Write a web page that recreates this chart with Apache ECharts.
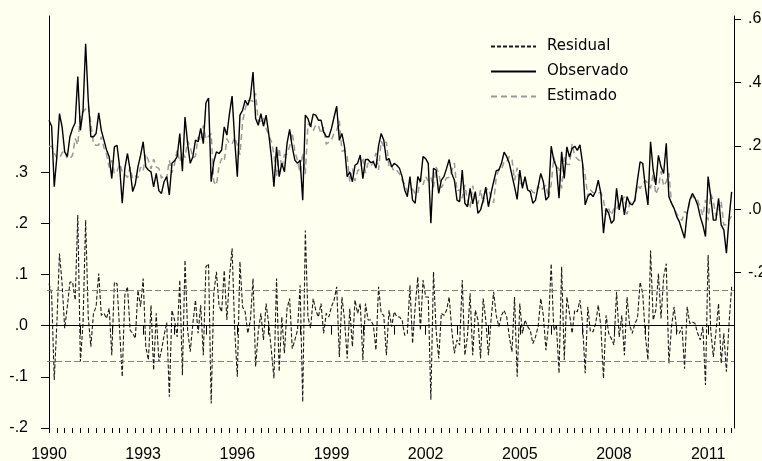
<!DOCTYPE html>
<html>
<head>
<meta charset="utf-8">
<script src="https://cdn.jsdelivr.net/npm/echarts@6/dist/echarts.min.js"></script>
<style>
  html, body { margin: 0; padding: 0; background: #fffff0; }
  #chart { width: 762px; height: 461px; }
</style>
</head>
<body>
<div id="chart"></div>
<script>
// monthly data, index 0 = 1990M01
const startYear = 1990;
const yearTicks = [0, 12, 24, 36, 48, 60, 72, 84, 96, 108, 120, 132, 144, 156, 168, 180, 192, 204, 216, 228, 240, 252];
const yearLabelTicks = [0, 36, 72, 108, 144, 180, 216, 252];
const residualTicks = [-0.2, -0.1, 0, 0.1, 0.2, 0.3];
const fittedTicks = [-0.2, 0, 0.2, 0.4, 0.6];
const residualBand = 0.065;

const observado = [
  .281, .262, .071, .166, .302, .260, .181, .166, .229, .255,
  .273, .419, .249, .312, .522, .344, .229, .229, .239, .304,
  .249, .218, .187, .166, .097, .197, .202, .134, .019, .13,
  .176, .124, .056, .08, .134, .17, .213, .134, .124, .118,
  .071, .113, .059, .05, .087, .103, .045, .145, .153, .166,
  .239, .12, .291, .207, .145, .166, .218, .213, .255, .207,
  .336, .351, .087, .15, .181, .176, .187, .26, .234, .302,
  .357, .218, .103, .297, .312, .344, .328, .354, .433, .286,
  .265, .302, .262, .297, .239, .166, .071, .197, .103, .145,
  .118, .207, .252, .197, .155, .145, .155, .029, .297, .286,
  .26, .3, .297, .281, .281, .244, .229, .229, .255, .291,
  .325, .218, .239, .197, .103, .118, .087, .139, .145, .171,
  .097, .157, .157, .147, .15, .13, .2, .239, .218, .155,
  .16, .134, .145, .139, .129, .103, .061, .04, .103, .029,
  .019, .103, .087, .166, .16, .145, -.044, .129, .124, .05,
  .092, .103, .129, .157, .113, .092, .029, .024, .124, .019,
  .008, .066, .017, .056, -.013, -.002, .029, .07, .008, .05,
  .087, .122, .124, .145, .18, .166, .145, .108, .071, .031,
  .124, .066, .103, .061, .056, .019, .029, .071, .113, .087,
  .029, .04, .199, .155, .134, .035, .181, .097, .197, .165,
  .192, .199, .186, .203, .145, .014, .04, .05, .04, .056,
  .092, .05, -.075, .003, -.013, -.044, -.034, .066, -.002, .045,
  -.018, .04, .019, .014, .029, .092, .15, .145, .071, .014,
  .213, .124, .077, .17, .134, .113, .208, .04, .019, .003,
  -.023, -.039, -.065, -.091, -.013, .029, .05, .035, .014, -.023,
  -.05, -.086, .103, .04, -.034, -.034, .035, -.049, -.065, -.138,
  -.03, .055
];

const estimado = [
  .199, .199, .177, .162, .161, .178, .186, .16, .16, .17,
  .223, .203, .3, .308, .316, .327, .27, .205, .202, .202,
  .229, .194, .173, .132, .155, .112, .12, .143, .119, .11,
  .1, .133, .096, .105, .099, .133, .121, .175, .154, .128,
  .158, .133, .129, .098, .106, .097, .155, .115, .142, .188,
  .15, .18, .163, .216, .196, .162, .168, .228, .215, .265,
  .221, .23, .239, .087, .076, .136, .16, .152, .223, .207,
  .206, .227, .203, .172, .275, .317, .343, .343, .341, .366,
  .277, .278, .29, .254, .235, .214, .174, .105, .193, .128,
  .172, .174, .199, .242, .183, .154, .115, .178, .111, .269,
  .265, .247, .267, .264, .238, .259, .205, .212, .218, .241,
  .249, .279, .183, .186, .167, .085, .128, .089, .121, .128,
  .164, .114, .146, .136, .149, .178, .124, .215, .198, .213,
  .13, .136, .118, .122, .112, .092, .08, .055, .063, .064,
  .049, .048, .096, .077, .104, .089, .101, .069, .133, .114,
  .068, .083, .099, .101, .122, .146, .057, .062, .035, .077,
  .028, .003, .075, .026, .017, .062, .019, .059, .066, .039,
  .021, .102, .126, .125, .15, .149, .167, .159, .091, .131,
  .081, .081, .092, .063, .065, .054, .051, .073, .06, .067,
  .077, .036, .078, .164, .133, .128, .066, .164, .141, .141,
  .207, .169, .159, .153, .141, .107, .04, .062, .052, .052,
  .052, .052, .028, -.017, .002, -.019, .004, 0, .02, .025,
  .04, -.016, .018, .029, .025, .078, .065, .082, .091, .081,
  .066, .113, .047, .068, .12, .073, .087, .114, .021, .003,
  -.014, -.024, -.035, -.007, -.013, .025, .043, .031, .029, .005,
  -.02, .03, -.035, .049, .027, -.022, -.008, .025, -.05, -.048,
  -.034, -.021
];

const residual = [
  .082, .063, -.106, .004, .141, .082, -.005, .037, .085, .085,
  .05, .216, -.07, .004, .206, .017, -.041, .024, .037, .102,
  .02, .024, .014, .034, -.058, .085, .082, -.009, -.1, .06,
  .076, -.009, -.015, -.025, .069, .037, .092, -.041, -.067, .04,
  -.087, .024, -.07, -.048, -.019, .006, -.139, .03, .011, -.022,
  .089, -.097, .128, -.009, -.051, .004, .05, -.015, .04, -.058,
  .115, .121, -.152, .063, .105, .04, .027, .108, .011, .095,
  .151, -.009, -.1, .125, .037, .027, -.015, .011, .092, -.08,
  -.012, .024, -.028, .043, .004, -.048, -.103, .092, -.09, .017,
  -.054, .033, .053, -.045, -.028, -.009, .079, -.149, .186, .017,
  -.005, .053, .03, .017, .043, -.015, .024, .017, .037, .05,
  .076, -.061, .056, .011, -.064, .033, -.041, .05, .024, .043,
  -.067, .043, .011, .011, .001, -.048, .076, .024, .02, -.058,
  .03, -.002, .027, .017, .017, .011, -.019, -.015, .079, -.035,
  .037, .095, -.009, .089, .056, .056, -.145, .105, -.009, -.064,
  .024, .02, .03, .056, -.009, -.054, -.028, -.038, .089, -.058,
  -.02, .063, -.058, .03, .011, -.064, .053, .011, -.058, .011,
  .066, .02, -.002, .02, .03, .017, -.022, -.051, .056, -.1,
  .043, -.015, .011, -.002, -.009, -.035, -.022, -.002, .053, .02,
  -.048, .004, .121, -.009, .001, -.093, .115, -.067, .056, .024,
  -.015, .03, .027, .05, .004, -.093, .037, -.012, -.012, .004,
  .04, -.002, -.103, .02, -.015, -.025, -.038, .066, -.022, .02,
  -.058, .056, .001, -.015, .004, .014, .085, .063, -.02, -.067,
  .147, .011, .03, .102, .014, .095, .121, -.074, -.002, .037,
  -.009, -.015, -.002, -.084, .037, .004, .007, .004, -.015, -.028,
  -.002, -.116, .138, -.009, -.061, -.012, .043, -.074, -.015, -.09,
  .004, .076
];

const quarterTicks = [];
for (let m = 0; m < observado.length; m += 3) quarterTicks.push(m);

function pairs(arr) {
  return arr.map((v, i) => [i, v]);
}

// EViews style numbers: .3, -.1, .0
function fmtNum(v) {
  const s = Math.abs(v).toFixed(1).replace(/^0/, '');
  return (v < -1e-9 ? '-' : '') + s;
}

const axisFont = { fontFamily: "'Liberation Sans Narrow', 'Liberation Sans', sans-serif", fontSize: 16, color: '#000' };
const gridBox = { left: 47, right: 28, top: 16, bottom: 33, outerBoundsMode: 'none', containLabel: false };

const chart = echarts.init(document.getElementById('chart'));
const option = {
  backgroundColor: '#fffff0',
  animation: false,
  grid: [
    Object.assign({}, gridBox),
    Object.assign({}, gridBox)
  ],
  legend: {
    orient: 'vertical',
    left: 485,
    top: 34,
    itemWidth: 45,
    itemHeight: 14,
    itemGap: 10,
    itemStyle: { opacity: 0 },
    textStyle: {
      fontFamily: "'DejaVu Sans', sans-serif",
      fontSize: 15,
      lineHeight: 14,
      color: '#000',
      padding: [0, 0, 0, 6]
    },
    data: ['Residual', 'Observado', 'Estimado']
  },
  xAxis: [
    {
      type: 'value',
      gridIndex: 0,
      min: -0.77,
      max: 261.9,
      axisLine: { show: true, lineStyle: { color: '#000', width: 1 } },
      axisTick: { show: true, customValues: yearTicks, length: 9, inside: false, lineStyle: { color: '#000' } },
      axisLabel: {
        show: true,
        customValues: yearLabelTicks,
        margin: 19,
        ...axisFont,
        formatter: v => String(startYear + Math.round(v / 12))
      },
      splitLine: { show: false }
    },
    {
      type: 'value',
      gridIndex: 1,
      min: -0.77,
      max: 261.9,
      axisLine: { show: false },
      axisTick: { show: true, customValues: quarterTicks, length: 5, inside: false, lineStyle: { color: '#000' } },
      axisLabel: { show: false },
      splitLine: { show: false }
    }
  ],
  yAxis: [
    {
      type: 'value',
      gridIndex: 0,
      position: 'left',
      min: -0.2,
      max: 0.605,
      axisLine: { show: true, lineStyle: { color: '#000', width: 1 } },
      axisTick: { show: true, customValues: residualTicks, length: 8, inside: false, lineStyle: { color: '#000' } },
      axisLabel: { show: true, customValues: residualTicks, margin: 19, ...axisFont, formatter: fmtNum },
      splitLine: { show: false }
    },
    {
      type: 'value',
      gridIndex: 0,
      position: 'right',
      min: -0.6895,
      max: 0.6095,
      axisLine: { show: true, lineStyle: { color: '#000', width: 1 } },
      axisTick: { show: true, customValues: fittedTicks, length: 7, inside: false, lineStyle: { color: '#000' } },
      axisLabel: { show: true, customValues: fittedTicks, margin: 14, ...axisFont, formatter: fmtNum },
      splitLine: { show: false }
    },
    {
      type: 'value',
      gridIndex: 1,
      show: false,
      min: 0,
      max: 1
    }
  ],
  series: [
    {
      name: 'Residual',
      type: 'line',
      xAxisIndex: 0,
      yAxisIndex: 0,
      data: pairs(residual),
      symbol: 'none',
      lineStyle: { color: '#1a1a1a', width: 1.1, type: [4, 2] },
      itemStyle: { color: '#1a1a1a' },
      markLine: {
        silent: true,
        symbol: ['none', 'none'],
        label: { show: false },
        data: [
          { yAxis: 0, lineStyle: { color: '#000', width: 1, type: 'solid' } },
          { yAxis: residualBand, lineStyle: { color: '#808080', width: 1, type: [6, 3] } },
          { yAxis: -residualBand, lineStyle: { color: '#808080', width: 1, type: [6, 3] } }
        ]
      },
      z: 2
    },
    {
      name: 'Estimado',
      type: 'line',
      xAxisIndex: 0,
      yAxisIndex: 1,
      data: pairs(estimado),
      symbol: 'none',
      lineStyle: { color: '#9a9a9a', width: 1.5, type: [6, 4] },
      itemStyle: { color: '#9a9a9a' },
      z: 3
    },
    {
      name: 'Observado',
      type: 'line',
      xAxisIndex: 0,
      yAxisIndex: 1,
      data: pairs(observado),
      symbol: 'none',
      lineStyle: { color: '#000', width: 1.4 },
      itemStyle: { color: '#000' },
      z: 4
    }
  ]
};
chart.setOption(option);
</script>
</body>
</html>
